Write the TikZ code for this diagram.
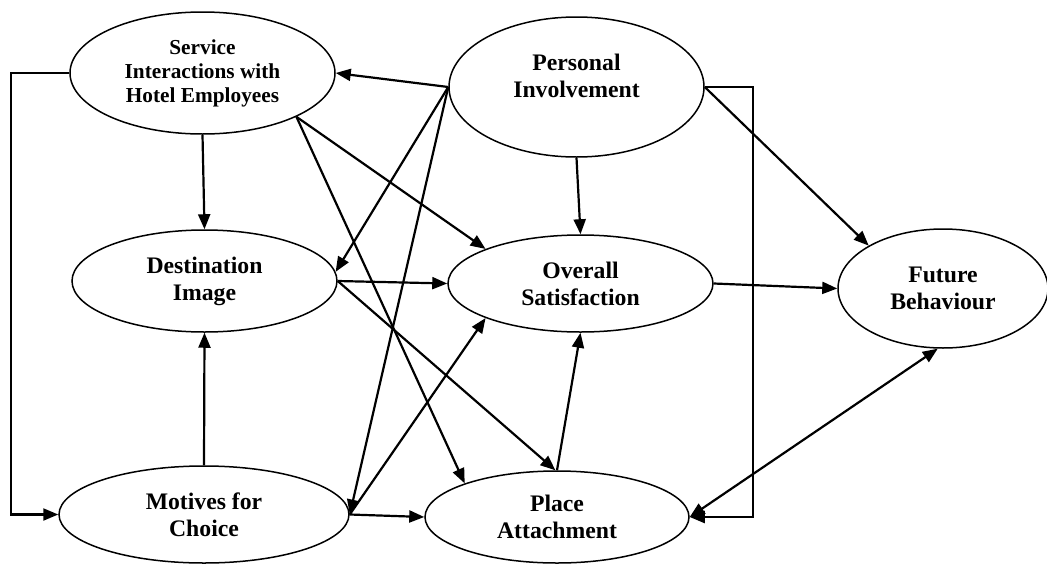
\documentclass[tikz,border=0pt]{standalone}
\usepackage{fontspec}
\setmainfont{Liberation Serif}
\usetikzlibrary{shapes.geometric,arrows.meta}

\begin{document}
\begin{tikzpicture}[x=1pt,y=-1pt,
  construct/.style={draw, ellipse, line width=1.5pt, inner sep=0pt, align=center,
    font=\fontsize{23.7}{27}\selectfont\bfseries},
  smalltext/.style={font=\fontsize{21.3}{24}\selectfont\bfseries},
  path/.style={line width=2.2pt, -{Triangle[length=15pt,width=12pt]}},
  twoway/.style={line width=2.2pt, {Triangle[length=15pt,width=12pt]}-{Triangle[length=15pt,width=12pt]}},
  link/.style={line width=2.2pt}]
  \useasboundingbox (0,0) rectangle (1047,565);

  % constructs
  \node[construct, smalltext, minimum width=265pt, minimum height=122pt] (si) at (202.5,73)
    {Service\\Interactions with\\Hotel Employees};
  \node[construct, minimum width=255pt, minimum height=140pt,
    label={[font=\fontsize{23.7}{27}\selectfont\bfseries, align=center, yshift=11pt]center:Personal\\Involvement}] (pi) at (576.5,87) {};
  \node[construct, minimum width=265pt, minimum height=102pt] (di) at (204.5,281)
    {Destination\\Image};
  \node[construct, minimum width=265pt, minimum height=97pt] (os) at (580.5,283.5)
    {Overall\\Satisfaction};
  \node[construct, minimum width=210pt, minimum height=119pt] (fb) at (943,288.5)
    {Future\\Behaviour};
  \node[construct, minimum width=290pt, minimum height=97pt] (mc) at (204,514.5)
    {Motives for\\Choice};
  \node[construct, minimum width=264pt, minimum height=92pt] (pa) at (557,517)
    {Place\\Attachment};

  % paths from Service Interactions
  \draw[path] (si.south) -- (di.north);
  \draw[path] (si.-25) -- (os.160);
  \draw[path] (si.-25) -- (pa.160);
  \draw[path] (si.west) -- ++(-58,0) |- (mc.west);

  % paths from Personal Involvement
  \draw[path] (pi.west) -- (si.east);
  \draw[path] (pi.west) -- (di.4);
  \draw[path] (pi.west) -- (mc.east);
  \draw[path] (pi.south) -- (os.north);
  \draw[path] (pi.east) -- (fb.150);
  \draw[path] (pi.east) -- ++(48,0) |- (pa.east);

  % paths from Destination Image
  \draw[path] (di.east) -- (os.west);
  \draw[path] (di.east) -- (pa.92);

  % paths from Motives for Choice
  \draw[path] (mc.north) -- (di.south);
  \draw[path] (mc.east) -- (os.200);
  \draw[path] (mc.east) -- (pa.west);

  % remaining paths
  \draw[path] (pa.north) -- (os.south);
  \draw[path] (os.east) -- (fb.west);
  \draw[twoway] (pa.east) -- (fb.265);
\end{tikzpicture}
\end{document}
